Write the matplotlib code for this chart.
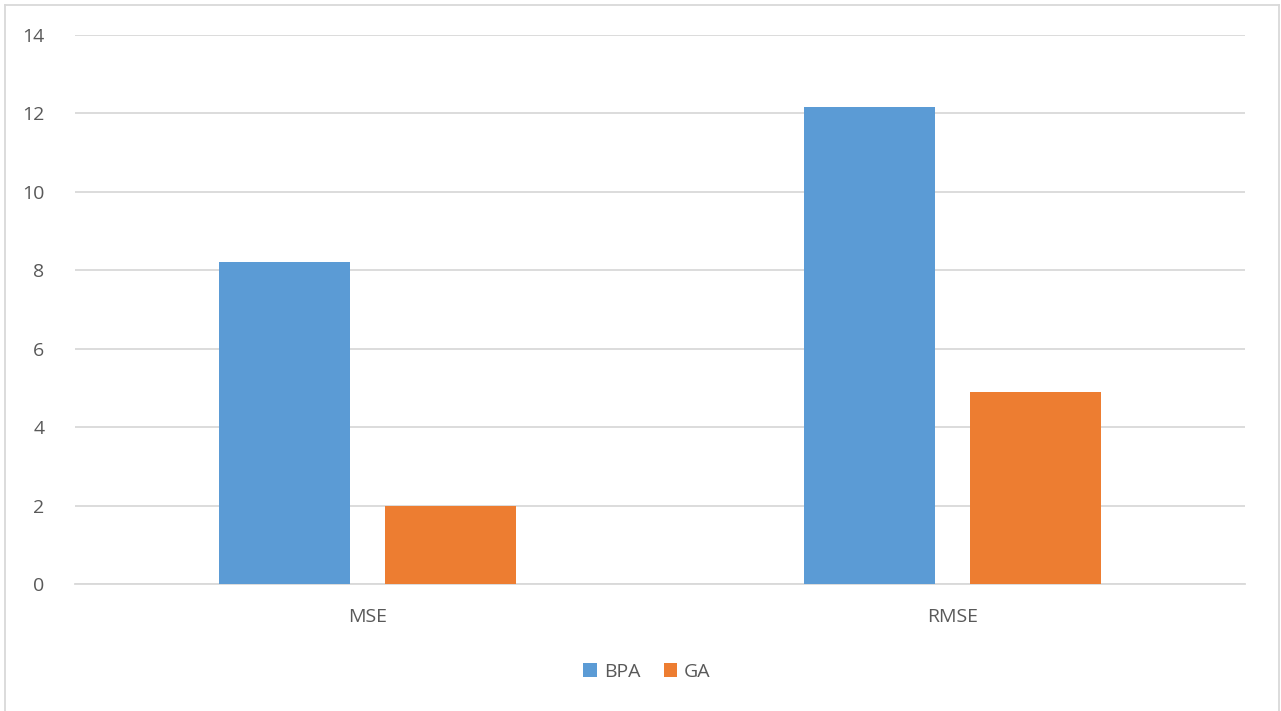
import matplotlib
matplotlib.use("Agg")
import matplotlib.pyplot as plt
from matplotlib.lines import Line2D
from matplotlib.patches import Patch
import numpy as np

plt.rcParams['font.family'] = ['Open Sans', 'DejaVu Sans']

categories = ["MSE", "RMSE"]
series_names = ["BPA", "GA"]
bpa_values = [8.22, 12.17]
ga_values = [1.99, 4.89]
colors = ["#5B9BD5", "#ED7D31"]
yticks = [0, 2, 4, 6, 8, 10, 12, 14]

text_color = "#595959"
grid_color = "#D9D9D9"

fig = plt.figure(figsize=(12.81, 7.11), dpi=100)
ax = fig.add_axes([75 / 1281, 1 - 584 / 711, 1170 / 1281, 549 / 711])

x = np.arange(len(categories))
width = 0.224
offset = 0.142
ax.bar(x - offset, bpa_values, width, color=colors[0], label=series_names[0], zorder=3)
ax.bar(x + offset, ga_values, width, color=colors[1], label=series_names[1], zorder=3)

ax.set_xlim(-0.5, len(categories) - 0.5)
ax.set_ylim(0, 14)
ax.set_yticks(yticks)
ax.set_yticklabels([str(v) for v in yticks])
ax.set_xticks(x)
ax.set_xticklabels(categories)

ax.yaxis.grid(True, color=grid_color, linewidth=1.3, zorder=0)
ax.set_axisbelow(True)
for side in ["top", "right", "left"]:
    ax.spines[side].set_visible(False)
ax.spines["bottom"].set_color(grid_color)
ax.spines["bottom"].set_linewidth(1.3)
ax.tick_params(axis="both", length=0, colors=text_color, labelsize=14)
ax.tick_params(axis="y", pad=22)
ax.tick_params(axis="x", pad=17)

handles = [Patch(facecolor=c, edgecolor="none") for c in colors]
fig.legend(handles, series_names, loc="center", bbox_to_anchor=(647 / 1281, 1 - 672 / 711),
           ncol=2, frameon=False, fontsize=14, labelcolor=text_color,
           handlelength=0.7, handleheight=0.7, handletextpad=0.35, columnspacing=1.2)

# light frame around the chart area
frame_kw = dict(color="#D9D9D9", linewidth=1.3, transform=fig.transFigure)
fig.add_artist(Line2D([5 / 1281, 5 / 1281], [0, 1 - 5 / 711], **frame_kw))
fig.add_artist(Line2D([5 / 1281, 1279 / 1281], [1 - 5 / 711, 1 - 5 / 711], **frame_kw))
fig.add_artist(Line2D([1279 / 1281, 1279 / 1281], [0, 1 - 5 / 711], **frame_kw))

fig.savefig("out.png", dpi=100)
